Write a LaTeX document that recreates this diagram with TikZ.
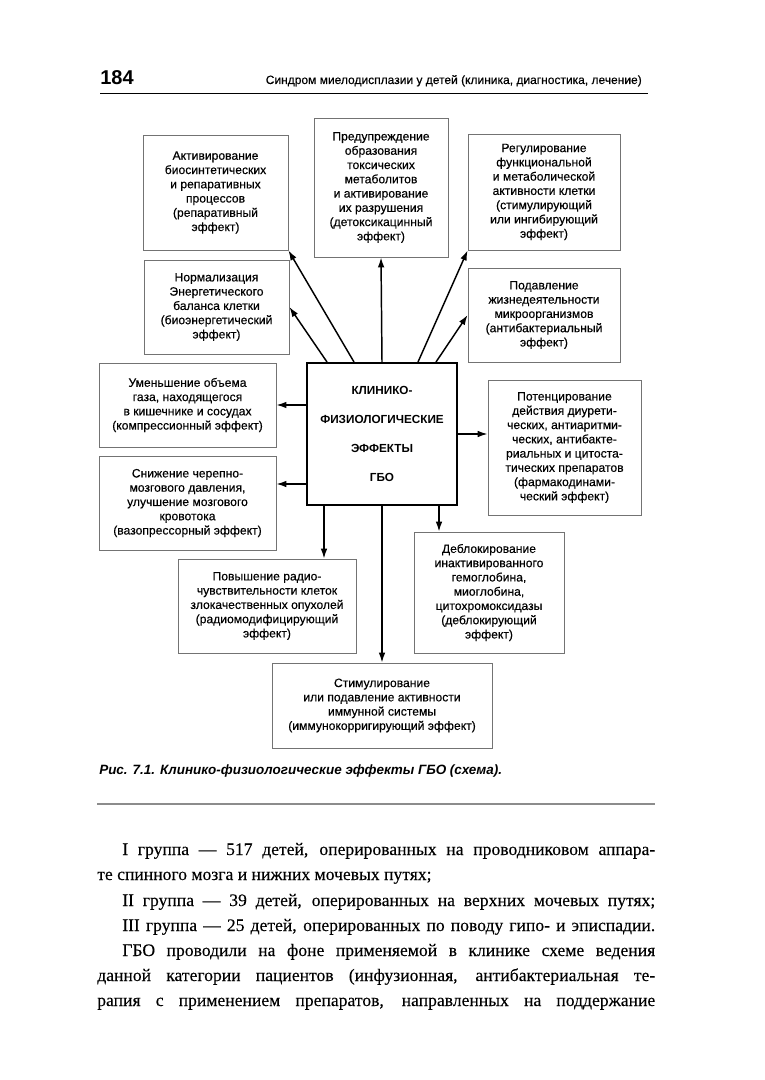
\documentclass[tikz,border=0pt]{standalone}
\usepackage{fontspec}
\setmainfont{Liberation Serif}[FakeBold=0.15]
\newfontfamily\diagfont[FakeBold=0.35]{Liberation Sans}
\newfontfamily\headfont{Liberation Sans}
\usetikzlibrary{positioning,arrows.meta,calc}

\begin{document}
\begin{tikzpicture}[x=0.75pt, y=-0.75pt,
    effect/.style 2 args={draw=black!55, line width=0.6pt, align=center,
        font=\diagfont\fontsize{9.1}{10.7}\selectfont, text=black,
        minimum width=#1*0.75pt, minimum height=#2*0.75pt, inner sep=1pt},
    gbobox/.style={draw, line width=1.5pt, align=center,
        font=\headfont\bfseries\fontsize{8.8}{21.8}\selectfont,
        minimum width=150*0.75pt, minimum height=142*0.75pt},
    arr/.style={-{Latex[length=7.5pt,width=5pt]}, line width=1.1pt},
    bodyline/.style={anchor=base west, inner sep=0pt,
        font=\fontsize{13.2}{18}\selectfont}]
    \useasboundingbox (0,0) rectangle (764,1080);

    % running head
    \node[anchor=base west, inner sep=0pt,
          font=\headfont\bfseries\fontsize{15}{15}\selectfont] (pagenum) at (100,85) {184};
    \node[anchor=base east, inner sep=0pt,
          font=\diagfont\fontsize{9}{10}\selectfont] (runhead) at (642,84)
          {Синдром миелодисплазии у детей (клиника, диагностика, лечение)};
    \draw[line width=0.7pt] (100,93) -- (648,93);

    % centre
    \node[gbobox] (gbo) at (382,434) {КЛИНИКО-\\ФИЗИОЛОГИЧЕСКИЕ\\ЭФФЕКТЫ\\ГБО};

    % effects
    \node[effect={145}{115}] (repar) at (215.5,192.5)
        {Активирование\\биосинтетических\\и репаративных\\процессов\\(репаративный\\эффект)};
    \node[effect={134}{139}] (detox) at (381,187.5)
        {Предупреждение\\образования\\токсических\\метаболитов\\и активирование\\их разрушения\\(детоксикацинный\\эффект)};
    \node[effect={152}{116}] (regul) at (544,192)
        {Регулирование\\функциональной\\и метаболической\\активности клетки\\(стимулирующий\\или ингибирующий\\эффект)};
    \node[effect={145}{94}] (bioen) at (216.5,307)
        {Нормализация\\Энергетического\\баланса клетки\\(биоэнергетический\\эффект)};
    \node[effect={152}{94}] (antib) at (544,315)
        {Подавление\\жизнедеятельности\\микроорганизмов\\(антибактериальный\\эффект)};
    \node[effect={177}{84}] (compr) at (187.5,405)
        {Уменьшение объема\\газа, находящегося\\в кишечнике и сосудах\\(компрессионный эффект)};
    \node[effect={153}{135}] (pharm) at (564.5,447.5)
        {Потенцирование\\действия диурети-\\ческих, антиаритми-\\ческих, антибакте-\\риальных и цитоста-\\тических препаратов\\(фармакодинами-\\ческий эффект)};
    \node[effect={177}{94}] (vazop) at (187.5,503)
        {Снижение черепно-\\мозгового давления,\\улучшение мозгового\\кровотока\\(вазопрессорный эффект)};
    \node[effect={178}{94}] (radio) at (267,606)
        {Повышение радио-\\чувствительности клеток\\злокачественных опухолей\\(радиомодифицирующий\\эффект)};
    \node[effect={150}{121}] (debl) at (489,592.5)
        {Деблокирование\\инактивированного\\гемоглобина,\\миоглобина,\\цитохромоксидазы\\(деблокирующий\\эффект)};
    \node[effect={220}{85}] (immun) at (382,705.5)
        {Стимулирование\\или подавление активности\\иммунной системы\\(иммунокорригирующий эффект)};

    % arrows
    \draw[arr] (gbo.north west) ++(21,0) coordinate (g1) -- (bioen.east);
    \draw[arr] (gbo.north west) ++(48,0) coordinate (g2) -- (repar.south east);
    \draw[arr] (gbo.north) -- (detox.south);
    \draw[arr] (gbo.north east) ++(-40,0) coordinate (g3) -- (regul.south west);
    \draw[arr] (gbo.north east) ++(-22,0) coordinate (g4) -- (antib.west);
    \draw[arr] (gbo.west |- compr.east) -- (compr.east);
    \draw[arr] (gbo.south west) ++(0,-22) coordinate (g5) -- (vazop.east |- g5);
    \draw[arr] (gbo.east) -- (pharm.west |- gbo.east);
    \draw[arr] (gbo.south west) ++(18,0) coordinate (g6) -- (g6 |- radio.north);
    \draw[arr] (gbo.south) -- (immun.north);
    \draw[arr] (gbo.south east) ++(-19,0) coordinate (g7) -- (g7 |- debl.north);

    % caption
    \node[anchor=base west, inner sep=0pt,
          font=\headfont\bfseries\itshape\fontsize{10.1}{12}\selectfont] (caption) at (99,774)
          {Рис. 7.1. Клинико-физиологические эффекты ГБО (схема).};
    \draw[black!45, line width=1.3pt] (97,804) -- (655,804);

    % text
    \node[bodyline] (l1) at (122,855) {\makebox[399.75pt][s]{I группа — 517 детей, оперированных на проводниковом аппара-}};
    \node[bodyline] (l2) at (97,880) {те спинного мозга и нижних мочевых путях;};
    \node[bodyline] (l3) at (122,906) {\makebox[399.75pt][s]{II группа — 39 детей, оперированных на верхних мочевых путях;}};
    \node[bodyline] (l4) at (122,931) {\makebox[399.75pt][s]{III группа — 25 детей, оперированных по поводу гипо- и эписпадии.}};
    \node[bodyline] (l5) at (122,956) {\makebox[399.75pt][s]{ГБО проводили на фоне применяемой в клинике схеме ведения}};
    \node[bodyline] (l6) at (97,981) {\makebox[418.5pt][s]{данной категории пациентов (инфузионная, антибактериальная те-}};
    \node[bodyline] (l7) at (97,1006) {\makebox[418.5pt][s]{рапия с применением препаратов, направленных на поддержание}};
\end{tikzpicture}
\end{document}
